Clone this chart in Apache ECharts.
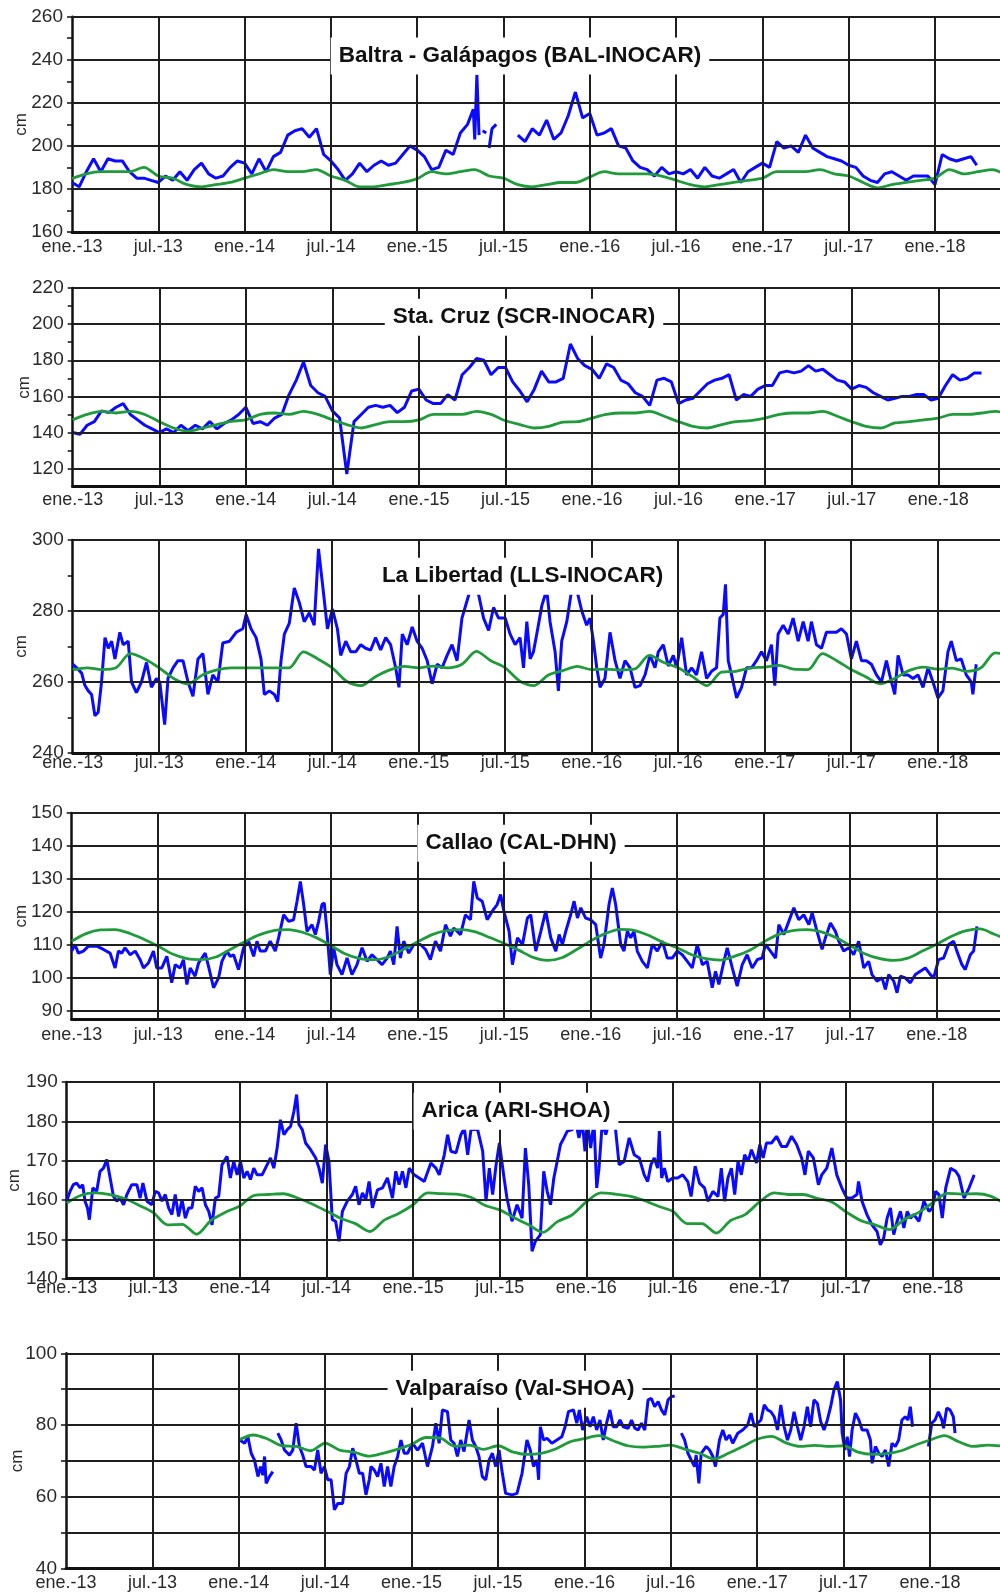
<!DOCTYPE html>
<html><head><meta charset="utf-8">
<script src="https://cdn.jsdelivr.net/npm/echarts@6/dist/echarts.min.js"></script>
<style>html,body{margin:0;padding:0;background:#fff}#c{width:1000px;height:1596px}</style>
</head><body><div id="c"></div>
<script>
// ---------- tick labels ----------
const xTickLabels = ['ene.-13','jul.-13','ene.-14','jul.-14','ene.-15','jul.-15','ene.-16','jul.-16','ene.-17','jul.-17','ene.-18'];
const xGridMonths = [6,12,18,24,30,36,42,48,54,60];
const titles = ['Baltra - Galápagos (BAL-INOCAR)','Sta. Cruz (SCR-INOCAR)','La Libertad (LLS-INOCAR)','Callao (CAL-DHN)','Arica (ARI-SHOA)','Valparaíso (Val-SHOA)'];
const yRanges = [[160,260],[110,220],[240,300],[87.5,150],[140,190],[40,100]];
const yLabelValues = [[160,180,200,220,240,260],[120,140,160,180,200,220],[240,260,280,300],[90,100,110,120,130,140,150],[140,150,160,170,180,190],[40,60,80,100]];
const yTickValues = [[160,170,180,190,200,210,220,230,240,250,260],[120,130,140,150,160,170,180,190,200,210,220],[240,250,260,270,280,290,300],[90,100,110,120,130,140,150],[140,150,160,170,180,190],[40,50,60,70,80,90,100]];
const yGridValues = [[180,200,220,240,260],[120,140,160,180,200,220],[260,280,300],[90,100,110,120,130,140,150],[150,160,170,180,190],[50,60,70,80,90,100]];

// ---------- data: x = months since ene.-13, y = cm ----------
const balBlue = [[0,183],[0.5,181],[1,188],[1.5,194],[2,188],[2.5,194],[3,193],[3.5,193],[4,188],[4.5,185],[5,185],[5.5,184],[6,183],[6.5,186],[7,184],[7.5,188],[8,184],[8.5,189],[9,192],[9.5,187],[10,185],[10.5,186],[11,190],[11.5,193],[12,192],[12.5,187],[13,194],[13.5,188],[14,195],[14.5,197],[15,205],[15.5,207],[16,208],[16.5,204],[17,208],[17.5,196],[18,193],[18.5,189],[19,184],[19.5,187],[20,192],[20.5,188],[21,191],[21.5,193],[22,191],[22.5,192],[23,196],[23.5,200],[24,198],[24.5,195],[25,189],[25.5,190],[26,198],[26.5,196],[27,206],[27.5,210],[27.9,217],[28,203],[28.15,233],[28.3,205],[28.4,null],[28.55,207],[28.8,206],[28.9,null],[29,199],[29.2,208],[29.5,210],[29.6,null],[31,205],[31.5,202],[32,208],[32.5,205],[33,212],[33.5,203],[34,206],[34.5,214],[35,225],[35.5,213],[36,215],[36.5,205],[37,206],[37.5,208],[38,200],[38.5,199],[39,193],[39.5,190],[40,189],[40.5,186],[41,190],[41.5,187],[42,188],[42.5,187],[43,189],[43.5,185],[44,190],[44.5,186],[45,185],[45.5,187],[46,189],[46.5,183],[47,188],[47.5,190],[48,192],[48.5,190],[49,202],[49.5,199],[50,200],[50.5,197],[51,205],[51.5,199],[52,197],[52.5,195],[53,194],[53.5,193],[54,191],[54.5,190],[55,186],[55.5,184],[56,183],[56.5,187],[57,188],[57.5,186],[58,184],[58.5,186],[59,186],[59.5,186],[60,182],[60.5,196],[61,194],[61.5,193],[62,194],[62.5,195],[62.9,191]];
const balGreen = [184.8,187,188,188,188,190,186,185,182,181,182,183,185,187,189,188,188,189,186,184,181,181,182,183,184.8,188,187,188,189,186,185,182,181,182,183,183,185.5,188,187,187,187,186,184,182,181,182,183,184,185,188,188,188,189,187,186,183,180.5,182,183,184,185,189,187,188,189,186];

const scrBlue = [[0,140],[0.5,139],[1,144],[1.5,146],[2,152],[2.5,151],[3,154],[3.5,156],[4,150],[4.5,147],[5,144],[5.5,142],[6,140],[6.5,142],[7,140],[7.5,144],[8,141],[8.5,144],[9,142],[9.5,146],[10,142],[10.5,145],[11,147],[11.5,150],[12,154],[12.5,145],[13,146],[13.5,144],[14,148],[14.5,150],[15,161],[15.5,169],[16,179],[16.5,166],[17,162],[17.5,160],[18,152],[18.5,148],[19,117],[19.5,146],[20,150],[20.5,154],[21,155],[21.5,154],[22,155],[22.5,151],[23,154],[23.5,163],[24,164],[24.5,158],[25,156],[25.5,156],[26,161],[26.5,158],[27,172],[27.5,176],[28,181],[28.5,180],[29,172],[29.5,176],[30,176],[30.5,168],[31,163],[31.5,157],[32,164],[32.5,174],[33,168],[33.5,168],[34,170],[34.5,189],[35,181],[35.5,177],[36,175],[36.5,170],[37,178],[37.5,176],[38,169],[38.5,167],[39,162],[39.5,160],[40,155],[40.5,169],[41,170],[41.5,168],[42,156],[42.5,158],[43,159],[43.5,163],[44,167],[44.5,169],[45,170],[45.5,172],[46,158],[46.5,161],[47,160],[47.5,164],[48,166],[48.5,166],[49,173],[49.5,174],[50,173],[50.5,174],[51,177],[51.5,174],[52,175],[52.5,172],[53,169],[53.5,168],[54,164],[54.5,166],[55,165],[55.5,162],[56,160],[56.5,158],[57,159],[57.5,160],[58,160],[58.5,161],[59,161],[59.5,158],[60,159],[60.5,166],[61,172],[61.5,169],[62,170],[62.5,173],[63,173]];
const scrGreen = [147,150,151.7,150.8,151.7,150,146,142.5,140.7,142.5,144.4,146.2,147,150,150.8,150,151.7,150,147,144.4,142.5,144.4,146,146,147,150,150,150,151.7,150,146.5,144.4,142.5,143.4,145.8,146,148,150,150.8,150.8,151.7,149,146,143.4,142.5,144.4,146,146.6,148,150,150.8,150.8,151.7,149,146,143.4,142.5,145.3,146,147,148,150,150,150.8,151.7,150];

const llsBlue = [[0,265],[0.28,264],[0.62,262.5],[0.85,259],[1.08,257.5],[1.31,256.5],[1.54,250.5],[1.77,251.5],[2,260],[2.24,272.5],[2.47,269.5],[2.7,271.5],[2.93,266.5],[3.27,274],[3.5,270.5],[3.85,271.5],[4.08,260],[4.42,257],[4.77,260],[5.12,265.5],[5.46,258.5],[5.81,261],[6.04,260],[6.38,248],[6.61,261],[6.96,264],[7.3,266],[7.65,266],[8,260],[8.34,256],[8.69,266.5],[9.03,268],[9.38,256.5],[9.72,262],[10.07,260],[10.41,271],[10.88,271.5],[11.34,274],[11.8,275],[12.03,279],[12.37,275],[12.72,272.5],[13.06,266.5],[13.29,256.5],[13.64,257.5],[13.99,256.5],[14.22,254.5],[14.45,266],[14.68,273.5],[15.02,276.5],[15.37,286.5],[15.71,282.5],[16.06,277],[16.41,279.5],[16.75,276],[17.05,297.5],[17.33,287.5],[17.67,275],[18.02,280.5],[18.36,275],[18.59,267.5],[18.94,271.5],[19.29,268.5],[19.63,268.5],[19.98,270.5],[20.32,269.5],[20.67,269],[21.01,272.5],[21.36,269],[21.71,272.5],[22.05,270.5],[22.4,264],[22.63,258.5],[22.86,273.5],[23.2,270.5],[23.55,275.5],[23.89,271.5],[24.24,269.5],[24.59,266],[24.93,259.5],[25.28,265],[25.62,264],[25.97,267.5],[26.31,270.5],[26.66,266],[27,278],[27.47,284.5],[27.7,290],[28.16,284.5],[28.5,278],[28.85,274.5],[29.19,281],[29.54,278],[30,278],[30.34,273.5],[30.69,270.5],[31.03,272.5],[31.27,264],[31.5,277],[31.73,266.5],[31.96,268.5],[32.19,273.5],[32.54,281.5],[32.88,286],[33.11,277],[33.46,268.5],[33.69,257.5],[33.92,271.5],[34.27,277],[34.61,286],[34.96,286],[35.31,280],[35.65,276],[35.88,278],[36.12,271.5],[36.35,264],[36.58,258.5],[36.92,261],[37.27,274],[37.62,266],[37.96,261],[38.31,266],[38.66,264],[39,258.5],[39.35,259],[39.7,262],[40.04,267.5],[40.39,264],[40.62,268.5],[40.97,270.5],[41.31,264.5],[41.66,267.5],[41.89,264],[42.24,272.5],[42.58,262],[42.93,264],[43.27,262],[43.62,268.5],[43.97,261],[44.31,263],[44.66,264],[44.89,278],[45.12,279],[45.28,287.5],[45.47,266],[45.7,262],[46.05,255.5],[46.39,258.5],[46.74,264],[47.09,264],[47.43,266],[47.78,268.5],[48.12,266],[48.47,270.5],[48.7,259],[48.93,273.5],[49.28,276],[49.63,273.5],[49.97,278],[50.32,271.5],[50.67,277],[51.01,271.5],[51.24,277],[51.59,270.5],[51.94,269.5],[52.28,274],[52.63,274],[52.97,274],[53.32,275],[53.67,273.5],[54.01,266.5],[54.36,271.5],[54.71,266],[55.05,266],[55.4,265],[55.75,262],[56.1,260],[56.44,266],[56.67,262],[57.02,256.5],[57.25,267.5],[57.6,262],[57.94,262],[58.29,261],[58.63,262],[58.98,258.5],[59.33,264],[59.67,260],[60.02,255.5],[60.36,257.5],[60.71,268.5],[60.94,271.5],[61.29,266],[61.63,266.5],[61.98,262],[62.33,260],[62.44,256.5],[62.67,265]];
const llsGreen = [263.4,264,263.5,264,268,266.5,264,261,259.5,262,263.4,264,264,264,264,264,268.5,266.5,264,260.2,259,261.5,263.4,264.4,264,264.5,264,265,268.6,266,264,260.3,259,262,263.2,264.4,263.5,263.6,263.4,263.7,267.5,265.5,264,261.5,259,262.8,263,263.9,264.2,264.7,263.6,263.5,268,266,263.5,261.5,259.5,261,263.2,264.2,263.6,263.9,263,264,268.2,267.5];

const calBlue = [[0,108.2],[0.23,110.2],[0.46,107.6],[0.81,108.2],[1.16,109.7],[1.74,109.7],[2.2,108.7],[2.66,107.6],[3.01,103.1],[3.24,108.2],[3.47,107.6],[3.7,109.2],[4.05,107.1],[4.4,108.2],[4.75,105.6],[4.98,103.1],[5.32,104.6],[5.67,108.2],[5.9,103.1],[6.25,103.1],[6.6,106.6],[6.94,98.6],[7.18,104.1],[7.52,103.1],[7.75,105.6],[7.99,98.1],[8.22,103.1],[8.56,100.6],[8.8,104.6],[9.03,106.1],[9.26,107.6],[9.49,103.6],[9.84,97.1],[10.19,100.1],[10.42,105.1],[10.76,108.2],[11,106.6],[11.23,107.1],[11.57,102.6],[11.92,109.2],[12.27,111.2],[12.62,106.6],[12.85,111.2],[13.08,108.2],[13.43,108.2],[13.77,111.2],[14.12,108.2],[14.35,112.2],[14.7,119.2],[15.05,117.2],[15.39,117.7],[15.63,123.3],[15.86,129.3],[16.09,122.3],[16.32,114.2],[16.67,116.2],[16.9,113.2],[17.13,117.2],[17.36,122.3],[17.52,122.8],[17.71,114.2],[17.94,101.1],[18.17,109.2],[18.4,104.1],[18.75,101.1],[19.1,106.1],[19.44,101.1],[19.79,104.1],[20.14,109.2],[20.49,105.1],[20.83,107.1],[21.18,105.6],[21.53,104.1],[21.88,106.1],[22.11,108.2],[22.34,104.1],[22.57,115.7],[22.8,106.1],[23.03,111.2],[23.38,107.6],[23.73,110.2],[24.19,110.2],[24.54,108.7],[24.88,105.6],[25.23,111.2],[25.58,108.2],[25.93,116.2],[26.27,112.7],[26.5,115.2],[26.97,113.2],[27.31,119.2],[27.66,117.7],[27.89,129.3],[28.13,124.3],[28.47,123.3],[28.82,117.7],[29.17,120.3],[29.51,122.3],[29.75,125.3],[29.98,120.3],[30.34,114.2],[30.57,104.1],[30.92,112.2],[31.27,110.2],[31.61,118.2],[31.84,119.2],[32.19,108.2],[32.54,114.2],[32.88,120.3],[33.23,112.2],[33.58,108.2],[33.81,113.2],[34.04,110.2],[34.27,114.2],[34.61,119.2],[34.85,123.3],[35.08,118.2],[35.31,121.3],[35.65,118.2],[36,117.7],[36.35,116.2],[36.69,106.1],[36.92,110.2],[37.27,122.3],[37.5,127.3],[37.73,122.3],[38.08,110.2],[38.31,108.2],[38.54,114.2],[38.77,112.2],[39,114.2],[39.23,108.2],[39.58,105.1],[39.93,103.1],[40.27,110.2],[40.62,108.2],[40.97,111.2],[41.31,106.1],[41.66,106.1],[42,108.2],[42.35,107.1],[42.7,105.1],[43.04,103.1],[43.39,110.2],[43.74,104.1],[44.08,105.1],[44.43,97.1],[44.66,102.1],[44.89,98.1],[45.24,105.1],[45.47,109.2],[45.82,103.1],[46.16,97.6],[46.51,104.1],[46.85,107.1],[47.2,103.1],[47.55,105.6],[47.89,106.1],[48.12,110.2],[48.47,108.2],[48.82,106.1],[49.05,116.2],[49.4,113.2],[49.74,117.2],[50.09,121.3],[50.43,117.7],[50.78,119.2],[51.13,116.2],[51.36,119.8],[51.7,114.2],[52.05,108.7],[52.28,112.2],[52.63,116.7],[52.97,114.2],[53.21,111.2],[53.55,108.2],[53.9,109.2],[54.24,107.1],[54.59,111.2],[54.94,103.1],[55.28,105.1],[55.51,101.1],[55.86,99.1],[56.21,100.1],[56.44,96.6],[56.67,101.1],[57.02,99.1],[57.25,95.6],[57.48,100.6],[57.82,100.1],[58.17,98.6],[58.52,101.1],[58.86,102.1],[59.21,103.1],[59.56,101.1],[59.79,100.1],[60.13,105.6],[60.48,106.1],[60.83,110.2],[61.17,111.2],[61.4,108.2],[61.75,104.1],[61.98,102.6],[62.33,107.1],[62.56,108.2],[62.79,115.7]];
const calGreen = [111.2,113.5,114.6,114.7,113.6,111.8,109.7,107.3,105.9,105.6,106.4,108.7,111,113.1,114.4,114.7,113.9,112.2,109.8,107.3,105.9,105.6,106.5,108.7,111,113.2,114.4,114.7,114,112.3,110.5,108.5,106.3,105.4,106.2,108.6,111.3,113.5,114.8,114.5,113,110.9,109.2,107.1,105.9,105.5,106.7,108.4,111,113.2,114.4,114.7,114,112.3,109.9,107.4,106,105.4,106.1,108.2,110.3,112.6,114.3,114.9,113.3,111.5];

const ariBlue = [[0,159.7],[0.23,162.2],[0.46,163.9],[0.69,164.3],[0.93,163.1],[1.11,163.9],[1.27,159.7],[1.44,158],[1.57,155],[1.81,163.1],[2.08,162.2],[2.31,167.3],[2.55,168.1],[2.78,170.3],[3.01,165.6],[3.24,160.9],[3.47,159.7],[3.7,160.5],[3.94,158.8],[4.17,161.4],[4.51,163.9],[4.86,163.9],[5.09,160.5],[5.28,164.3],[5.56,159.7],[5.9,158.8],[6.13,162.2],[6.37,161.8],[6.6,159.7],[6.83,161.4],[7.06,158],[7.29,156.3],[7.52,161.4],[7.75,155.8],[7.99,160.1],[8.22,155.4],[8.45,158],[8.68,158],[8.91,163.5],[9.14,162.2],[9.38,163.1],[9.61,158.8],[9.84,157.1],[10.07,153.7],[10.3,160.5],[10.53,160.9],[10.76,169],[11.11,171.1],[11.34,165.6],[11.57,169.8],[11.81,166.4],[12.04,169.8],[12.27,165.6],[12.5,167.3],[12.73,165.2],[12.96,168.1],[13.19,166.4],[13.54,166.4],[13.89,169],[14.12,170.7],[14.35,168.1],[14.58,173.2],[14.81,180.4],[15.05,176.6],[15.28,177.9],[15.51,178.7],[15.74,182.5],[15.93,186.8],[16.09,179.2],[16.32,177.9],[16.55,174.5],[16.9,172.8],[17.25,170.7],[17.48,168.1],[17.71,164.3],[17.94,174.1],[18.17,169.8],[18.4,155],[18.63,154.6],[18.87,149.5],[19.1,157.1],[19.44,159.7],[19.79,161.4],[20.02,163.5],[20.25,158.8],[20.49,161.8],[20.72,160.1],[20.95,164.7],[21.18,158],[21.53,162.6],[21.88,163.1],[22.22,165.6],[22.57,160.5],[22.8,167.3],[23.03,163.9],[23.26,167.3],[23.5,163.1],[23.73,168.1],[24.07,166.4],[24.42,165.6],[24.77,164.7],[25.23,169.4],[25.58,168.1],[25.81,166.4],[26.16,171.5],[26.39,176.6],[26.62,172.4],[26.97,172],[27.31,176.6],[27.55,178.3],[27.78,171.5],[28.01,177.9],[28.47,177.9],[28.82,172.4],[29.05,159.7],[29.28,168.1],[29.51,161.4],[29.75,169],[29.98,174.5],[30.27,166.4],[30.5,160.5],[30.85,154.6],[31.2,158.8],[31.55,155.4],[31.78,173.2],[32.01,163.9],[32.24,147],[32.47,149.5],[32.82,151.2],[33.05,167.3],[33.29,162.2],[33.52,158.8],[33.75,165.6],[33.98,169.8],[34.21,174.1],[34.45,175.8],[34.68,177.5],[35.03,177.9],[35.26,180],[35.49,175.8],[35.72,180],[35.91,172.4],[36.07,180],[36.3,173.2],[36.53,180],[36.72,163.1],[36.88,168.1],[37.11,180],[37.35,176.6],[37.58,180],[37.97,180],[38.27,169],[38.62,169.8],[38.97,175.8],[39.32,171.5],[39.67,170.7],[40.01,166.4],[40.25,164.7],[40.48,169],[40.71,170.7],[40.94,168.1],[41.06,177.5],[41.22,165.6],[41.41,168.1],[41.64,164.7],[41.99,165.6],[42.33,165.6],[42.68,166.4],[43.03,164.7],[43.26,160.9],[43.54,168.6],[43.84,164.3],[44.19,163.1],[44.42,159.7],[44.77,162.2],[45.12,160.9],[45.35,168.1],[45.58,159.7],[45.81,165.6],[46.05,168.1],[46.28,161.4],[46.51,169.8],[46.74,166.4],[46.97,171.5],[47.21,169.8],[47.44,172.8],[47.79,169.4],[48.02,174.1],[48.25,170.7],[48.48,174.5],[48.83,174.5],[49.18,176.2],[49.53,173.6],[49.87,173.6],[50.22,176.2],[50.57,174.1],[50.92,170.7],[51.15,166.4],[51.38,172.4],[51.73,170.7],[52.08,163.9],[52.31,166.4],[52.66,168.1],[53.01,173.2],[53.35,166.4],[53.7,163.1],[54.05,160.5],[54.4,160.5],[54.75,161.4],[54.86,164.7],[55.1,159.7],[55.44,156.3],[55.79,153.7],[56.14,152],[56.37,148.6],[56.6,150.3],[56.84,155.4],[57.07,158],[57.3,151.2],[57.53,154.6],[57.76,157.1],[58,152.9],[58.23,157.1],[58.46,155.4],[58.69,156.3],[59.04,154.6],[59.39,159.7],[59.74,157.1],[59.97,158],[60.2,162.2],[60.43,161.4],[60.66,155.4],[60.9,163.1],[61.24,168.1],[61.59,167.3],[61.82,166],[62.17,160.5],[62.52,163.1],[62.87,166.4]];
const ariGreen = [159.2,161.2,161.8,161.4,160.4,158.7,156.8,153.7,153.8,151.3,154.8,156.9,158.5,161.2,161.4,161.6,160.5,159,157.2,155.3,154,152,154.9,156.6,158.8,161.8,161.6,161.5,160.7,158.6,157.5,155.5,153.7,151.8,154.5,156.2,159.5,161.8,161.5,161,159.9,158.4,157.1,154,154,151.6,154.8,156.3,159.5,161.8,161.4,161.4,160.4,159.5,157,154.8,153.7,152.5,155,156.8,159.3,161.7,161.5,161.6,161,159];

const valBlue = [[12.06,75.8],[12.4,74.9],[12.63,76.7],[12.86,72.1],[13.09,70.2],[13.33,65.6],[13.51,68.4],[13.67,66],[13.79,71.2],[13.9,63.7],[14.13,65.6],[14.36,67],[14.5,null],[14.71,77.7],[14.94,75.8],[15.17,73],[15.52,71.6],[15.75,73],[15.98,80.5],[16.21,74],[16.44,71.6],[16.67,68.4],[17.02,68.4],[17.25,67.4],[17.48,73],[17.71,66.5],[17.94,68.4],[18.18,64.7],[18.41,64.7],[18.64,56.3],[18.87,58.1],[19.21,58.1],[19.45,66.5],[19.68,68.4],[19.91,73.5],[20.14,70.2],[20.37,66.5],[20.6,66.5],[20.83,60.5],[21.06,64.7],[21.18,68.4],[21.41,67.4],[21.64,65.6],[21.87,69.3],[22.1,62.8],[22.33,68.4],[22.56,62.8],[22.79,68.4],[23.03,71.2],[23.26,75.8],[23.49,72.1],[23.72,72.1],[24.06,74.9],[24.41,73],[24.76,74.9],[25.1,68.4],[25.45,74],[25.68,80.5],[25.91,74.9],[26.14,84.2],[26.49,83.7],[26.72,75.8],[26.95,74.9],[27.18,71.2],[27.41,75.8],[27.64,72.6],[27.99,81.4],[28.22,75.8],[28.45,74],[28.68,71.2],[28.91,65.6],[29.15,64.7],[29.38,70.2],[29.61,72.1],[29.84,68.4],[30.07,73],[30.3,66.5],[30.53,60.9],[30.98,60.5],[31.32,60.9],[31.67,66.5],[32.01,75.8],[32.24,73],[32.47,68.4],[32.71,70.2],[32.82,64.7],[32.94,79.5],[33.17,75.8],[33.4,76.3],[33.74,74.9],[34.09,75.8],[34.43,76.7],[34.66,79.5],[34.89,83.7],[35.24,84.2],[35.47,80.5],[35.65,84.2],[35.88,78.6],[36.16,82.3],[36.39,79.5],[36.62,82.3],[36.85,78.6],[37.08,81.4],[37.31,75.8],[37.54,80.5],[37.77,84.2],[38,79.5],[38.24,79.5],[38.47,81.4],[38.7,79.5],[39.04,79.1],[39.27,81.4],[39.5,79.1],[39.73,78.6],[39.96,80.5],[40.19,78.6],[40.42,87],[40.65,87.4],[40.88,85.1],[41.12,86.5],[41.35,84.2],[41.58,82.8],[41.81,87],[42.04,87.9],[42.27,88.1],[42.5,null],[42.73,77.7],[42.96,75.8],[43.19,72.1],[43.42,70.2],[43.65,68.4],[43.76,71.6],[43.95,63.7],[44.11,72.1],[44.46,74],[44.69,73],[44.92,71.2],[45.1,68.4],[45.38,75.8],[45.61,78.6],[45.84,75.8],[46.07,77.2],[46.3,74.9],[46.65,77.7],[46.99,78.6],[47.34,80],[47.57,83.3],[47.8,79.5],[48.03,80.5],[48.26,81.4],[48.49,85.6],[48.72,84.2],[48.95,83.7],[49.18,82.3],[49.41,78.6],[49.64,85.6],[49.87,79.5],[50.1,75.8],[50.33,78.6],[50.56,83.7],[50.79,79.5],[51.02,75.8],[51.25,79.5],[51.48,85.1],[51.71,79.5],[51.94,87],[52.18,86],[52.41,80.9],[52.64,78.6],[52.87,81.4],[53.1,85.1],[53.33,89.8],[53.56,92.1],[53.79,87],[53.9,77.7],[54.09,73],[54.25,76.7],[54.41,71.2],[54.59,78.6],[54.82,83.3],[55.06,81.4],[55.29,78.6],[55.63,78.6],[55.86,75.8],[55.98,69.3],[56.21,74],[56.44,72.1],[56.67,71.2],[56.9,73],[57.13,68.4],[57.36,74.9],[57.59,74],[57.82,75.8],[58.05,81.4],[58.28,82.3],[58.47,81.4],[58.63,85.1],[58.79,79.5],[59.3,null],[59.89,74],[60.12,80.5],[60.35,81.4],[60.58,83.7],[60.82,81.4],[60.94,79.1],[61.16,84.7],[61.39,84.2],[61.62,82.3],[61.74,77.7]];
const valGreen = [75.8,77.2,76.1,74.2,74,72.8,74.9,73,72.4,71.3,72.1,73.2,74.6,76.5,76.3,74.1,74.4,73.2,74.2,72.5,71.8,72.1,73.3,75.3,76.2,77,75.6,74.2,73.8,74,74.4,73.2,72.1,70.5,72.1,74,76,76.8,75,74,74.3,74,74.2,72.4,71.8,72,72.8,74.4,75.8,77,75.3,74,74.4,74.1];

const blueSeries = [balBlue, scrBlue, llsBlue, calBlue, ariBlue, valBlue];
const greenSeries = [balGreen, scrGreen, llsGreen, calGreen, ariGreen, valGreen];
const greenStartMonth = [0, 0, 0, 0, 0, 12];

// ---------- layout (pixels) ----------
const layout = [
  {left:72,   top:16.7,   height:215.3, xMax:64.52, xLabelMargin:6,   nameGap:42, titleX:520,   titleY:55.8},
  {left:72.7, top:288,    height:198.7, xMax:64.28, xLabelMargin:4,   nameGap:40, titleX:524,   titleY:317},
  {left:72.7, top:540,    height:213,   xMax:64.32, xLabelMargin:1,   nameGap:43, titleX:522.5, titleY:576},
  {left:71.7, top:813,    height:206.5, xMax:64.39, xLabelMargin:6.5, nameGap:42, titleX:521,   titleY:843},
  {left:66.7, top:1082,   height:196.7, xMax:64.66, xLabelMargin:0,   nameGap:44, titleX:516,   titleY:1111},
  {left:66,   top:1353.3, height:215,   xMax:64.86, xLabelMargin:6,   nameGap:40, titleX:515,   titleY:1389}
];

const FONT = "'Liberation Sans', Arial, Helvetica, sans-serif";
const BLUE = '#0a0aff', GREEN = '#1f9b3a', GRID = '#1e1e1e';
const TITLE_PAD = [7, 8];
const TITLE_FS = 22.5;

const grids = [], xAxes = [], yAxes = [], series = [], titleOpts = [];
layout.forEach((L, i) => {
  grids.push({left: L.left, top: L.top, right: 0, height: L.height, containLabel: false, outerBoundsMode: 'none'});
  xAxes.push({
    type: 'value', gridIndex: i, min: 0, max: L.xMax, interval: 6,
    axisLine: {show: true, onZero: false, lineStyle: {color: '#111', width: 3}},
    axisTick: {show: false}, splitLine: {show: false},
    axisLabel: {
      margin: L.xLabelMargin, fontSize: 18, color: '#2a2a2a', fontFamily: FONT,
      showMaxLabel: false,
      formatter: v => (Math.abs(v % 6) < 1e-6 && v <= 60.001) ? xTickLabels[Math.round(v / 6)] : ''
    }
  });
  yAxes.push({
    type: 'value', gridIndex: i, min: yRanges[i][0], max: yRanges[i][1],
    axisLine: {show: true, onZero: false, lineStyle: {color: '#111', width: 2.5}},
    axisTick: {show: true, customValues: yTickValues[i], length: 5, lineStyle: {color: '#111', width: 1.5}},
    axisLabel: {customValues: yLabelValues[i], margin: 9, fontSize: 19, color: '#2a2a2a', fontFamily: FONT},
    splitLine: {show: false},
    name: 'cm', nameLocation: 'middle', nameRotate: 90, nameGap: L.nameGap, nameMoveOverlap: false,
    nameTextStyle: {fontSize: 17, color: '#2a2a2a', fontFamily: FONT}
  });
  // grid lines
  series.push({
    type: 'line', xAxisIndex: i, yAxisIndex: i, data: [[0, yRanges[i][0]]],
    symbol: 'none', lineStyle: {width: 0, opacity: 0}, silent: true, z: 1,
    markLine: {
      silent: true, symbol: ['none', 'none'], label: {show: false}, animation: false,
      lineStyle: {color: GRID, width: 2, type: 'solid'},
      emphasis: {disabled: true},
      data: yGridValues[i].map(v => ({yAxis: v})).concat(xGridMonths.map(m => ({xAxis: m})))
    }
  });
  series.push({
    type: 'line', xAxisIndex: i, yAxisIndex: i, data: blueSeries[i],
    showSymbol: false, symbol: 'none', connectNulls: false,
    lineStyle: {color: BLUE, width: 3}, z: 3, silent: true
  });
  series.push({
    type: 'line', xAxisIndex: i, yAxisIndex: i,
    data: greenSeries[i].map((v, k) => [greenStartMonth[i] + k, v]),
    showSymbol: false, symbol: 'none', smooth: 0.3,
    lineStyle: {color: GREEN, width: 2.8}, z: 4, silent: true
  });
  titleOpts.push({
    text: titles[i], left: L.titleX - TITLE_PAD[1], top: L.titleY - TITLE_FS / 2 - TITLE_PAD[0],
    textAlign: 'center', padding: TITLE_PAD, backgroundColor: '#fff', z: 10,
    textStyle: {fontSize: TITLE_FS, fontWeight: 'bold', color: '#111', fontFamily: FONT}
  });
});

const chart = echarts.init(document.getElementById('c'), null, {renderer: 'canvas'});
chart.setOption({
  animation: false,
  backgroundColor: '#fff',
  textStyle: {fontFamily: FONT},
  title: titleOpts,
  grid: grids, xAxis: xAxes, yAxis: yAxes, series: series
});
</script>
</body></html>
